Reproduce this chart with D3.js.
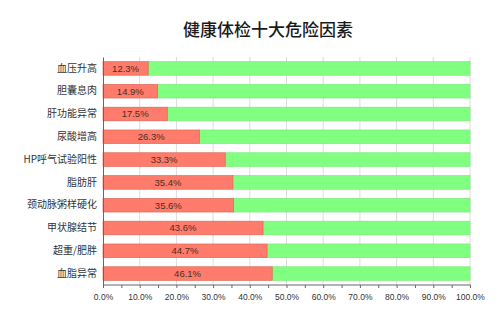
<!DOCTYPE html>
<html>
<head>
<meta charset="utf-8">
<script src="https://cdn.jsdelivr.net/npm/d3@7"></script>
<style>
  body { margin: 0; background: #fff; }
  #chart { width: 500px; height: 321px; }
</style>
</head>
<body>
<div id="chart"></div>
<script>
// chart data
var categories = ["血压升高", "胆囊息肉", "肝功能异常", "尿酸增高", "HP呼气试验阳性",
                  "脂肪肝", "颈动脉粥样硬化", "甲状腺结节", "超重/肥胖", "血脂异常"];
var values = [12.3, 14.9, 17.5, 26.3, 33.3, 35.4, 35.6, 43.6, 44.7, 46.1];
var xTicks = [0, 10, 20, 30, 40, 50, 60, 70, 80, 90, 100];
var minorTicks = [5, 15, 25, 35, 45, 55, 65, 75, 85, 95];
var title = "健康体检十大危险因素";

window.onload = function() {
    var svgWidth = 500, svgHeight = 321;
    var margin = { top: 57, right: 30, bottom: 36, left: 103 };
    var width = svgWidth - margin.left - margin.right;
    var height = svgHeight - margin.top - margin.bottom;

    var root = d3.select("#chart").append("svg")
        .attr("width", svgWidth)
        .attr("height", svgHeight);

    // title
    root.append("text")
        .attr("x", 268)
        .attr("y", 36)
        .attr("text-anchor", "middle")
        .style("font-family", "'Noto Sans CJK SC', sans-serif")
        .style("font-size", "17px")
        .style("font-weight", "500")
        .style("fill", "#1a1a1a")
        .text(title);

    var svg = root.append("g")
        .attr("transform", "translate(" + margin.left + "," + margin.top + ")");

    var xScale = d3.scaleLinear().domain([0, 100]).range([0, width]);
    var yScale = d3.scaleBand()
        .domain(categories)
        .range([0, height])
        .paddingInner(0.4)
        .paddingOuter(0.2);

    // gridlines
    svg.selectAll(".grid")
        .data(xTicks.slice(1))
        .enter().append("line")
        .attr("x1", function(d) { return xScale(d); })
        .attr("x2", function(d) { return xScale(d); })
        .attr("y1", 0)
        .attr("y2", height)
        .style("stroke", "#dcdcdc")
        .style("stroke-width", 1);

    // remaining part (green)
    svg.selectAll(".rest")
        .data(values)
        .enter().append("rect")
        .attr("x", function(d) { return xScale(d); })
        .attr("y", function(d, i) { return yScale(categories[i]); })
        .attr("width", function(d) { return xScale(100) - xScale(d); })
        .attr("height", yScale.bandwidth())
        .style("fill", "#80ff80")
        .style("stroke", "#72e872")
        .style("stroke-width", 0.6);

    // value part (red)
    svg.selectAll(".val")
        .data(values)
        .enter().append("rect")
        .attr("x", xScale(0))
        .attr("y", function(d, i) { return yScale(categories[i]); })
        .attr("width", function(d) { return xScale(d); })
        .attr("height", yScale.bandwidth())
        .style("fill", "#ff7b6b")
        .style("stroke", "#d8604f")
        .style("stroke-width", 0.6);

    // value labels
    svg.selectAll(".lbl")
        .data(values)
        .enter().append("text")
        .attr("x", function(d) { return xScale(d) / 2; })
        .attr("y", function(d, i) { return yScale(categories[i]) + yScale.bandwidth() / 2; })
        .attr("dy", "0.35em")
        .attr("text-anchor", "middle")
        .style("font-family", "'Liberation Sans', sans-serif")
        .style("font-size", "9.5px")
        .style("fill", "#4a2e22")
        .text(function(d) { return d.toFixed(1) + "%"; });

    // y axis
    var yAxisGroup = svg.append("g")
        .call(d3.axisLeft(yScale).tickSize(0).tickPadding(6));
    yAxisGroup.select(".domain").style("stroke", "#666");
    yAxisGroup.selectAll("text")
        .style("font-family", "'Noto Sans CJK SC', sans-serif")
        .style("font-size", "10px")
        .style("fill", "#333");

    // x axis
    var xAxisGroup = svg.append("g")
        .attr("transform", "translate(0," + height + ")")
        .call(d3.axisBottom(xScale)
            .tickValues(xTicks)
            .tickSize(3)
            .tickPadding(6)
            .tickFormat(function(d) { return d.toFixed(1) + "%"; }));
    xAxisGroup.select(".domain").style("stroke", "#666").attr("d", "M0.5,0H" + (width + 0.5));
    xAxisGroup.selectAll("line").style("stroke", "#666");
    xAxisGroup.selectAll("text")
        .style("font-family", "'Liberation Sans', sans-serif")
        .style("font-size", "8.5px")
        .style("fill", "#333");

    svg.append("g")
        .attr("transform", "translate(0," + height + ")")
        .selectAll("line")
        .data(minorTicks)
        .enter().append("line")
        .attr("x1", function(d) { return xScale(d) + 0.5; })
        .attr("x2", function(d) { return xScale(d) + 0.5; })
        .attr("y1", 0)
        .attr("y2", 3)
        .style("stroke", "#666");
};
</script>
</body>
</html>
